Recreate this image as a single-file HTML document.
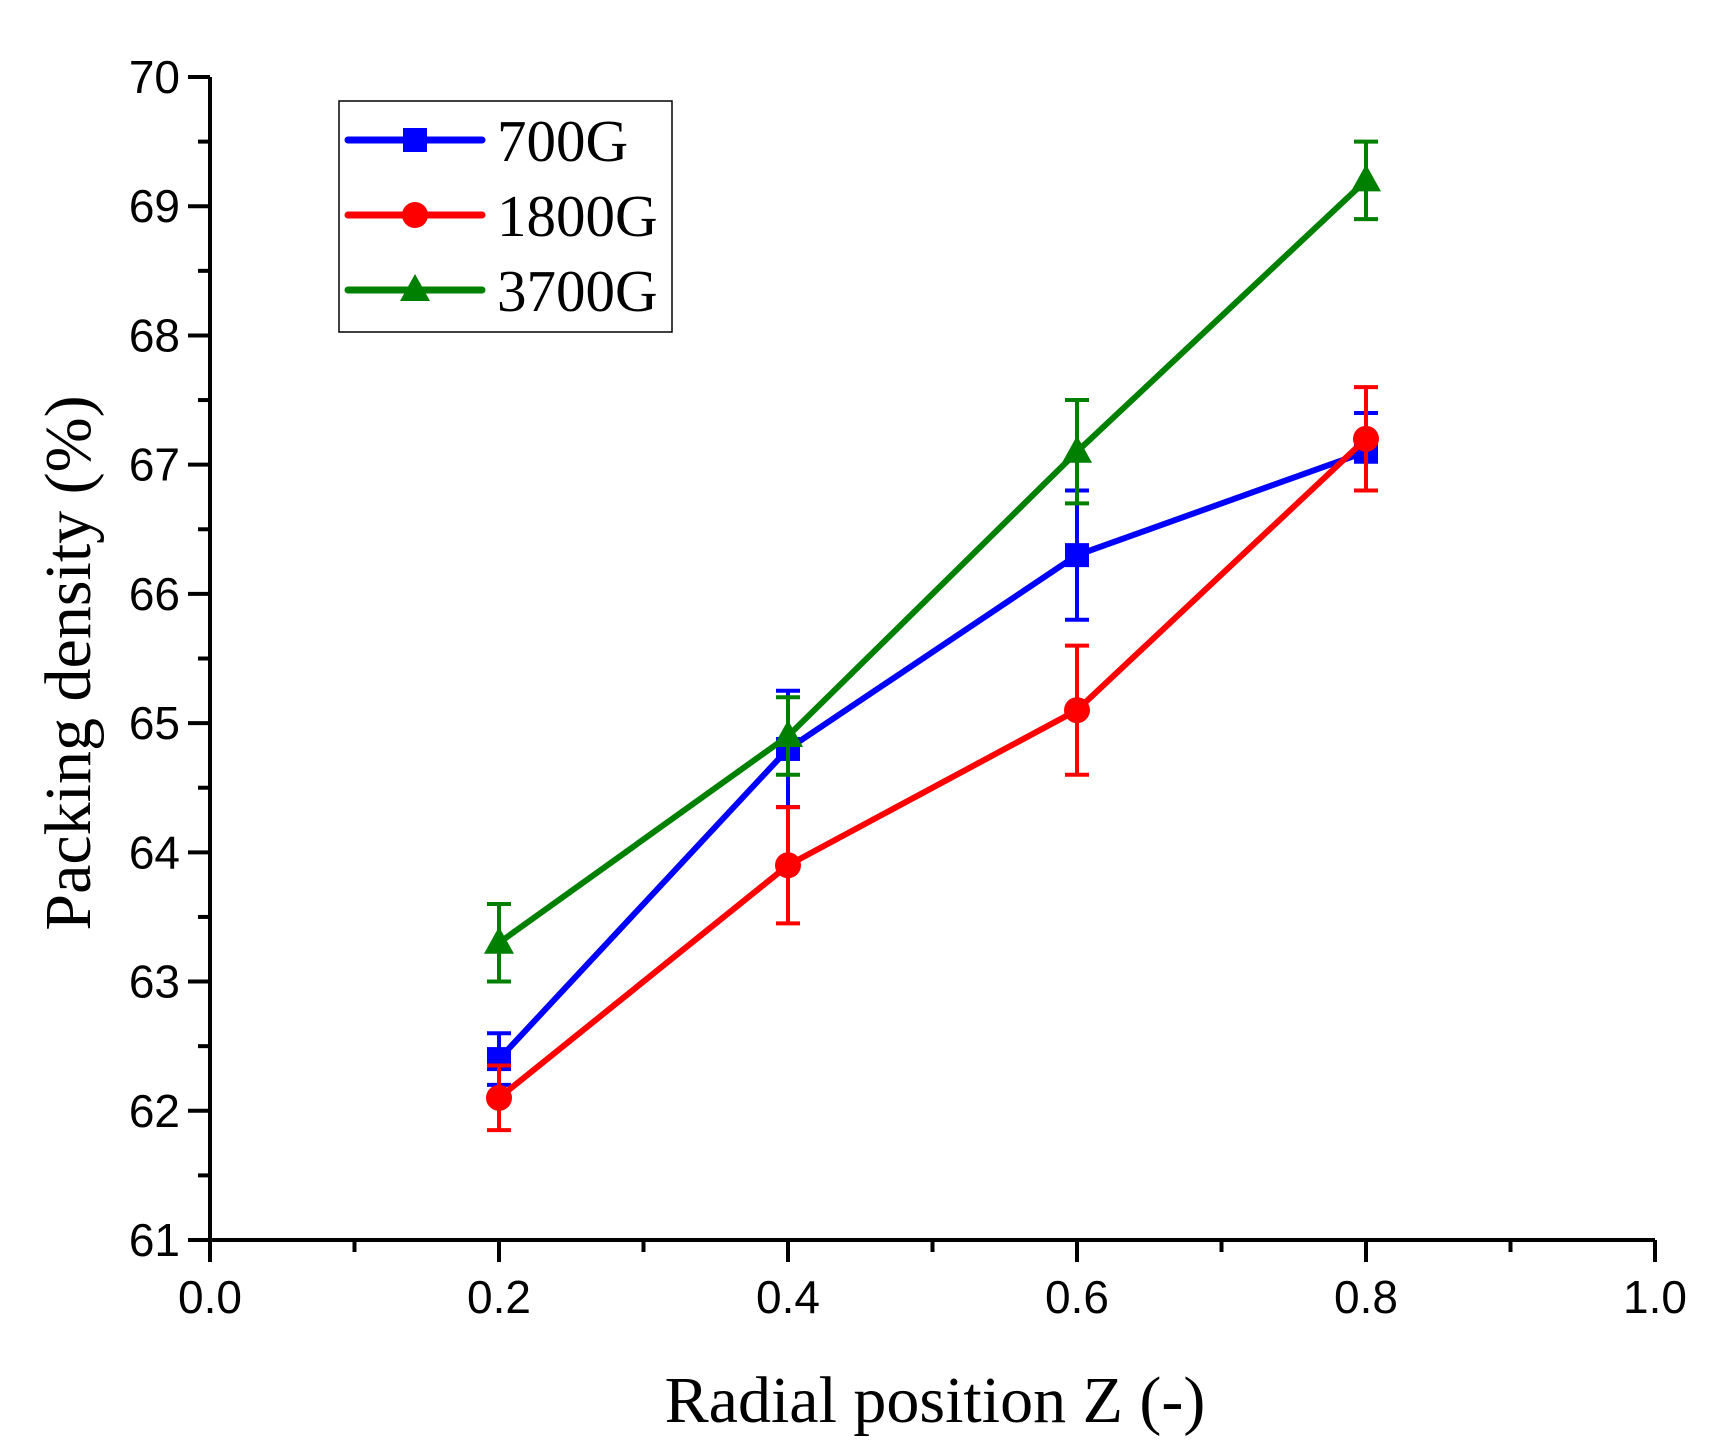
<!DOCTYPE html>
<html><head><meta charset="utf-8"><style>
html,body{margin:0;padding:0;background:#fff;}
svg{display:block;}
</style></head><body>
<svg id="chart" width="1725" height="1452" xmlns="http://www.w3.org/2000/svg">
<g id="axes"></g>
<g id="series"></g>
<g id="legend"></g>
<text x="935" y="1422" font-family="Liberation Serif, serif" font-size="66" text-anchor="middle">Radial position Z (-)</text>
<text transform="translate(90,663) rotate(-90)" font-family="Liberation Serif, serif" font-size="66" text-anchor="middle">Packing density (%)</text>
</svg>
<script>
const categories = [0.2, 0.4, 0.6, 0.8];
const seriesNames = ["700G", "1800G", "3700G"];
const values700 = [62.4, 64.8, 66.3, 67.1];
const err700 = [0.2, 0.45, 0.5, 0.3];
const values1800 = [62.1, 63.9, 65.1, 67.2];
const err1800 = [0.25, 0.45, 0.5, 0.4];
const values3700 = [63.3, 64.9, 67.1, 69.2];
const err3700 = [0.3, 0.3, 0.4, 0.3];
const xTicks = ["0.0","0.2","0.4","0.6","0.8","1.0"];
const yTicks = ["61","62","63","64","65","66","67","68","69","70"];

const NS="http://www.w3.org/2000/svg";
const X0=210,X1=1655,Y0=1240,Y1=77;
const xs=v=>X0+(v-0)/(1-0)*(X1-X0);
const ys=v=>Y0-(v-61)/(70-61)*(Y0-Y1);
function mk(tag,attrs,parent){const e=document.createElementNS(NS,tag);for(const k in attrs)e.setAttribute(k,attrs[k]);parent.appendChild(e);return e;}
const axes=document.getElementById('axes');
let a=mk('path',{d:`M${X0},${Y1} V${Y0} H${X1}`,fill:'none',stroke:'#000','stroke-width':4},axes);


xTicks.forEach((t,i)=>{const v=parseFloat(t);const x=xs(v);
 const l=mk('line',{x1:x,x2:x,y1:Y0,y2:Y0+22,stroke:'#000','stroke-width':4},axes);
 
 
 const tx=mk('text',{x:x,y:Y0+73,'font-family':'Liberation Sans, sans-serif','font-size':46,'text-anchor':'middle'},axes);tx.textContent=t;
 
 
 if(i<xTicks.length-1){const xm=xs(v+0.1);const m=mk('line',{x1:xm,x2:xm,y1:Y0,y2:Y0+12,stroke:'#000','stroke-width':4},axes);
 
 }
});
yTicks.forEach((t,i)=>{const v=parseFloat(t);const y=ys(v);
 const l=mk('line',{x1:X0-22,x2:X0,y1:y,y2:y,stroke:'#000','stroke-width':4},axes);
 
 
 const tx=mk('text',{x:X0-30,y:y+16,'font-family':'Liberation Sans, sans-serif','font-size':46,'text-anchor':'end'},axes);tx.textContent=t;
 
 
 if(i<yTicks.length-1){const ym=ys(v+0.5);const m=mk('line',{x1:X0-12,x2:X0,y1:ym,y2:ym,stroke:'#000','stroke-width':4},axes);
 
 }
});
const colors=['#0000ff','#ff0000','#008000'];
const vals=[values700,values1800,values3700];
const errs=[err700,err1800,err3700];
const shapes=['square','circle','triangle'];
const sg=document.getElementById('series');
function marker(shape,x,y,c,parent){
 let m;
 if(shape==='square')m=mk('rect',{x:x-12,y:y-12,width:24,height:24,fill:c},parent);
 else if(shape==='circle')m=mk('circle',{cx:x,cy:y,r:13,fill:c},parent);
 else m=mk('polygon',{points:`${x},${y-16} ${x+15},${y+11} ${x-15},${y+11}`,fill:c},parent);
 return m;
}
vals.forEach((arr,s)=>{
 const g=mk('g',{},sg);
 
 
 const pts=arr.map((v,i)=>xs(categories[i])+','+ys(v)).join(' ');
 const pl=mk('polyline',{points:pts,fill:'none',stroke:colors[s],'stroke-width':6,'stroke-linejoin':'round'},g);
 
 
 arr.forEach((v,i)=>{
  const x=xs(categories[i]),yt=ys(v+errs[s][i]),yb=ys(v-errs[s][i]);
  const e=mk('path',{d:`M${x-12},${yt} H${x+12} M${x},${yt} V${yb} M${x-12},${yb} H${x+12}`,stroke:colors[s],'stroke-width':4,fill:'none'},g);
  
  
  const m=marker(shapes[s],x,ys(v),colors[s],g);
  
  
 });
});
const lg=document.getElementById('legend');
const box=mk('rect',{x:339,y:101,width:333,height:231,fill:'#fff',stroke:'#000','stroke-width':1.5},lg);


seriesNames.forEach((n,s)=>{
 const y=140+s*75;
 const g=mk('g',{},lg);
 
 
 mk('line',{x1:348,x2:482,y1:y,y2:y,stroke:colors[s],'stroke-width':7,'stroke-linecap':'round'},g);
 marker(shapes[s],415,y,colors[s],g);
 const t=mk('text',{x:497,y:y+21,'font-family':'Liberation Serif, serif','font-size':59},g);t.textContent=n;
});
</script>
</body></html>
